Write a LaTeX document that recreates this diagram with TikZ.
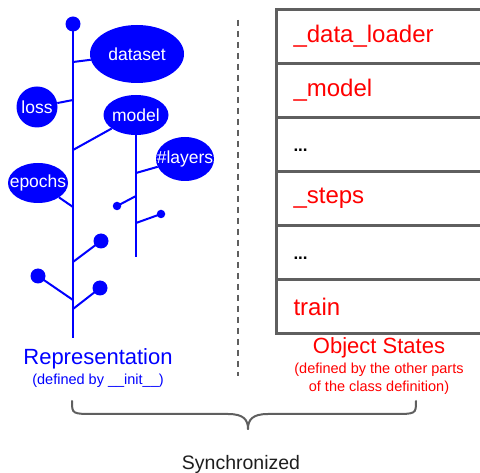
\documentclass[tikz,border=0pt]{standalone}
\usepackage{fontspec}
\setmainfont{Liberation Sans}
\usetikzlibrary{shapes.geometric}
\definecolor{tblue}{RGB}{0,0,255}
\definecolor{tred}{RGB}{255,0,0}
\definecolor{tgray}{RGB}{95,95,95}
\definecolor{tdark}{RGB}{30,30,30}
\begin{document}
\begin{tikzpicture}[x=1pt,y=-1pt,
  stem/.style={draw=tblue, line width=2pt},
  leaf/.style={ellipse, fill=tblue, text=white, inner sep=0pt, font=\fontsize{17.5}{20}\selectfont},
  bigdot/.style={circle, fill=tblue, minimum size=15pt, inner sep=0pt},
  smalldot/.style={circle, fill=tblue, minimum size=8.5pt, inner sep=0pt},
  rowbox/.style={rectangle, draw=tgray, line width=3pt, minimum height=54pt, text width=200pt, inner xsep=17pt, inner ysep=0pt, anchor=north west, align=left, text=tred, font=\fontsize{24}{28}\selectfont},
  dotsrow/.style={rowbox, text=black, font=\fontsize{17}{20}\selectfont\bfseries},
  bigblue/.style={text=tblue, font=\fontsize{22}{26}\selectfont},
  smallblue/.style={text=tblue, font=\fontsize{14.5}{18}\selectfont},
  bigred/.style={text=tred, font=\fontsize{22}{26}\selectfont},
  smallred/.style={text=tred, align=center, font=\fontsize{14.5}{18}\selectfont},
  sepline/.style={draw=tgray, line width=1.5pt, dash pattern=on 6pt off 5pt},
  bracestyle/.style={draw=tgray, line width=2pt, line cap=round}
]
\useasboundingbox (0,0) rectangle (480,473);
\begin{scope}
\clip (0,0) rectangle (480,473);

% ---------- tree ----------
\node[bigdot] (top) at (73,24) {};
\coordinate (stemend) at (73,338);
\draw[stem] (top.center) -- (stemend);

\node[leaf, minimum width=94pt, minimum height=58pt] (dataset) at (137,54) {\makebox[0pt]{dataset}};
\node[leaf, minimum width=41pt, minimum height=41pt] (loss) at (37,107) {\makebox[0pt]{loss}};
\node[leaf, minimum width=65pt, minimum height=40pt] (model) at (136,115) {\makebox[0pt]{model}};
\node[leaf, minimum width=58pt, minimum height=44pt] (layers) at (185,159) {\makebox[0pt]{\#layers}};
\node[leaf, minimum width=60pt, minimum height=40pt] (epochs) at (38,183) {\makebox[0pt]{epochs}};

\coordinate (s1) at (73,62);
\coordinate (s2) at (73,100);
\coordinate (s3) at (73,150);
\coordinate (s4) at (73,207);
\coordinate (s5) at (73,262);
\coordinate (s6) at (73,300);
\coordinate (s7) at (73,309);

\draw[stem] (s1) -- (dataset);
\draw[stem] (s2) -- (loss);
\draw[stem] (s3) -- (model);
\draw[stem] (s4) -- (epochs);

% model sub-stem
\coordinate (mend) at (136,257);
\coordinate (m1) at (136,173);
\coordinate (m2) at (136,196);
\coordinate (m3) at (136,223);
\draw[stem] (model.south) -- (mend);
\draw[stem] (m1) -- (layers);
\node[smalldot] (d1) at (117,206) {};
\node[smalldot] (d2) at (161,214) {};
\draw[stem] (m2) -- (d1.center);
\draw[stem] (m3) -- (d2.center);

% lower dots
\node[bigdot] (b1) at (101,241) {};
\node[bigdot] (b2) at (38,276) {};
\node[bigdot] (b3) at (100,288) {};
\draw[stem] (s5) -- (b1.center);
\draw[stem] (s6) -- (b2.center);
\draw[stem] (s7) -- (b3.center);

% ---------- left labels ----------
\node[bigblue] (rep) at (98,359) {Representation};
\node[smallblue] (repsub) at (98,381) {(defined by \_\_init\_\_)};

% ---------- separator ----------
\coordinate (septop) at (238,20);
\coordinate (sepbot) at (238,376);
\draw[sepline] (septop) -- (sepbot);

% ---------- table ----------
\node[rowbox] (r1) at (275,8) {\_data\_loader};
\node[rowbox] (r2) at (275,62) {\_model};
\node[dotsrow] (r3) at (275,116) {\raisebox{-7pt}[0pt][0pt]{...}};
\node[rowbox] (r4) at (275,170) {\_steps};
\node[dotsrow] (r5) at (275,224) {\raisebox{-7pt}[0pt][0pt]{...}};
\node[rowbox] (r6) at (275,278) {train};

\node[bigred] (obj) at (379,348) {Object States};
\node[smallred] (objsub) at (379,379) {(defined by the other parts\\of the class definition)};

% ---------- brace ----------
\coordinate (bl) at (72,401);
\coordinate (br) at (416,401);
\coordinate (btip) at (248,429);
\draw[bracestyle] (bl) .. controls (72,414) .. (95,414) -- (228,414)
  .. controls (244,414) and (248,420) .. (btip);
\draw[bracestyle] (btip) .. controls (248,420) and (252,414) .. (268,414)
  -- (393,414) .. controls (416,414) .. (br);

\node[text=tdark, font=\fontsize{19.5}{22}\selectfont] (sync) at (241,464) {Synchronized};
\end{scope}
\end{tikzpicture}
\end{document}
